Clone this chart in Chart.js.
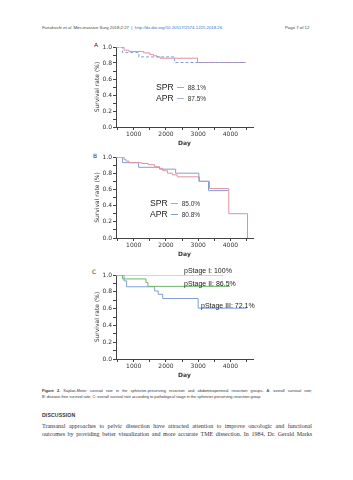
<!DOCTYPE html>
<html>
<head>
<meta charset="utf-8">
<script src="https://cdn.jsdelivr.net/npm/chart.js@4.4.1/dist/chart.umd.min.js"></script>
<style>
    html, body { margin: 0; padding: 0; background: #fff; }
    body { width: 353px; height: 480px; position: relative; overflow: hidden; font-family: "Liberation Sans", Arial, sans-serif; color: #222; }
    .abs { position: absolute; white-space: nowrap; }
    canvas { position: absolute; }
    .hdr { font-size: 4.3px; line-height: 6px; color: #444; }
    .panel { font-size: 6px; line-height: 8px; color: #333; font-family: "DejaVu Sans", sans-serif; }
    .lg { font-size: 8.6px; line-height: 10px; color: #222; }
    .lg .pct { font-size: 6.5px; color: #333; }
    .lg .ln { display: inline-block; width: 7px; height: 1px; vertical-align: middle; margin: 0 4px 0 3px; }
    .stage { font-size: 7px; line-height: 9px; color: #222; }
    .cap { font-size: 3.9px; line-height: 6.6px; color: #333; width: 270px; white-space: normal; }
    .cap.j { text-align: justify; text-align-last: justify; }
    .disc { font-size: 5.2px; font-weight: bold; color: #333; letter-spacing: 0.1px; line-height: 7px; }
    .para { font-family: "Liberation Serif", serif; font-size: 6px; line-height: 7.6px; color: #333; width: 270px; white-space: normal; text-align: justify; text-align-last: justify; }
</style>
</head>
<body>

<div class="abs hdr" style="left:42px;top:25px"><i>Funakoshi et al.</i> Mini-invasive Surg 2018;2:27 &nbsp;|&nbsp; <span style="color:#2f6fbf">http://dx.doi.org/10.20517/2574-1225.2018.26</span></div>
<div class="abs hdr" style="left:285px;top:25px">Page 7 of 12</div>

<div class="abs panel" style="left:94px;top:41px">A</div>
<div class="abs panel" style="left:93px;top:152px">B</div>
<div class="abs panel" style="left:92px;top:268px">C</div>

<canvas id="km-os" width="176" height="113" style="left:84px;top:38px"></canvas>
<canvas id="km-dfs" width="176" height="114" style="left:84px;top:148px"></canvas>
<canvas id="km-stage" width="176" height="117" style="left:84px;top:266px"></canvas>

<div id="lg-os" class="abs" style="left:156px;top:82px"></div>
<div id="lg-dfs" class="abs" style="left:150px;top:198px"></div>
<div id="lg-stage"></div>

<div class="abs cap j" style="left:42px;top:387.5px"><b>Figure 2.</b> Kaplan-Meier survival rate in the sphincter-preserving resection and abdominoperineal resection groups. A: overall survival rate;</div>
<div class="abs cap" style="left:42px;top:394px">B: disease-free survival rate; C: overall survival rate according to pathological stage in the sphincter-preserving resection group</div>

<div class="abs disc" style="left:42px;top:412px">DISCUSSION</div>
<div class="abs para" style="left:42px;top:423px">Transanal approaches to pelvic dissection have attracted attention to improve oncologic and functional</div>
<div class="abs para" style="left:42px;top:430.6px">outcomes by providing better visualization and more accurate TME dissection. In 1984, Dr. Gerald Marks</div>

<script>
// axes
const dayMin = 450;
const dayMax = 4700;
const xTickDays = [500, 1000, 1500, 2000, 2500, 3000, 3500, 4000, 4500];
const xTickLabels = ["", "1000", "", "2000", "", "3000", "", "4000", ""];
const yTickValues = [0, 0.1, 0.2, 0.3, 0.4, 0.5, 0.6, 0.7, 0.8, 0.9, 1.0];

// A: overall survival
const osGroups = ["SPR", "APR"];
const osRates = ["88.1%", "87.5%"];
const osSprDays = [450, 700, 850, 1310, 1500, 1620, 1720, 1820, 2980, 4480];
const osSprSurv = [1.0, 0.96, 0.945, 0.926, 0.905, 0.89, 0.876, 0.86, 0.806, 0.806];
const osAprDays = [450, 650, 1160, 2270, 4480];
const osAprSurv = [1.0, 0.93, 0.876, 0.806, 0.806];

// B: disease-free survival
const dfsGroups = ["SPR", "APR"];
const dfsRates = ["85.0%", "80.8%"];
const dfsSprDays = [450, 700, 760, 850, 1250, 1450, 1650, 1800, 1900, 2050, 2200, 2350, 3040, 3350, 3950, 4530];
const dfsSprSurv = [1.0, 0.97, 0.95, 0.93, 0.92, 0.905, 0.88, 0.86, 0.83, 0.80, 0.78, 0.755, 0.70, 0.61, 0.30, 0.0];
const dfsAprDays = [450, 650, 1150, 1800, 2300, 3020, 3320, 3930];
const dfsAprSurv = [1.0, 0.93, 0.873, 0.85, 0.80, 0.70, 0.585, 0.585];

// C: overall survival by pathological stage (SPR)
const stageNames = ["pStage I", "pStage II", "pStage III"];
const stageRates = ["100%", "86.5%", "72.1%"];
const stage1Days = [450, 3770];
const stage1Surv = [1.0, 1.0];
const stage2Days = [450, 650, 1380, 1440, 3990];
const stage2Surv = [1.0, 0.953, 0.91, 0.865, 0.865];
const stage3Days = [450, 700, 780, 1650, 1760, 1900, 3000, 4500];
const stage3Surv = [1.0, 0.93, 0.86, 0.81, 0.77, 0.72, 0.605, 0.605];

const PINK = "#e0909c";
const BLUE = "#7f9ed6";
const GREEN = "#6db56a";
const AXIS = "#444";

Chart.defaults.font.family = "'DejaVu Sans', sans-serif";
Chart.defaults.font.size = 6;
Chart.defaults.color = "#333";

const charts = [];

function toPoints(days, surv) {
    return days.map((d, i) => ({ x: d, y: surv[i] }));
}

function kmChart(canvasId, series) {
    const ctx = document.getElementById(canvasId);
    if (!ctx) return;

    const chart = new Chart(ctx, {
        type: "line",
        data: {
            datasets: series.map(s => ({
                data: toPoints(s.days, s.surv),
                borderColor: s.color,
                borderWidth: 1,
                borderDash: s.dash || [],
                pointRadius: 0,
                stepped: "before",
                fill: false,
                tension: 0,
            })),
        },
        options: {
            responsive: false,
            animation: false,
            events: [],
            layout: { padding: { top: 9, right: 7, left: 0, bottom: 0 } },
            plugins: { legend: { display: false }, tooltip: { enabled: false } },
            scales: {
                x: {
                    type: "linear",
                    min: dayMin,
                    max: dayMax,
                    afterBuildTicks: axis => { axis.ticks = xTickDays.map(v => ({ value: v })); },
                    afterFit: axis => { axis.height = 24; },
                    ticks: {
                        padding: 1,
                        maxRotation: 0,
                        autoSkip: false,
                        callback: (v, i) => xTickLabels[i],
                    },
                    grid: { drawOnChartArea: false, tickLength: 3, color: AXIS },
                    border: { color: AXIS, width: 1 },
                    title: { display: true, text: "Day", font: { weight: "bold", size: 6 }, padding: { top: 0, bottom: 4 } },
                },
                y: {
                    min: 0,
                    max: 1,
                    afterBuildTicks: axis => { axis.ticks = yTickValues.map(v => ({ value: v })); },
                    afterFit: axis => { axis.width = 32; },
                    ticks: {
                        padding: 1,
                        autoSkip: false,
                        callback: v => (Math.round(v * 10) % 2 === 0 ? v.toFixed(1) : ""),
                    },
                    grid: { drawOnChartArea: false, tickLength: 3, color: AXIS },
                    border: { color: AXIS, width: 1 },
                    title: { display: true, text: "Survival rate (%)", padding: { top: 10, bottom: 0 } },
                },
            },
        },
    });

    charts.push(chart);
}

function renderLegend(id, names, rates, colors, rowGap) {
    const box = document.getElementById(id);
    box.innerHTML = names.map((n, i) => `
        <div class="lg" style="position:absolute;left:0;top:${i * rowGap}px;white-space:nowrap">${n}<span class="ln" style="background:${colors[i]}"></span><span class="pct">${rates[i]}</span></div>
    `).join("");
}

function renderStageLabels(names, rates, spots) {
    const box = document.getElementById("lg-stage");
    box.innerHTML = names.map((n, i) => `
        <div class="abs stage" style="left:${spots[i][0]}px;top:${spots[i][1]}px">${n}: ${rates[i]}</div>
    `).join("");
}

kmChart("km-os", [
    { days: osAprDays, surv: osAprSurv, color: BLUE, dash: [3, 2] },
    { days: osSprDays, surv: osSprSurv, color: PINK },
]);
kmChart("km-dfs", [
    { days: dfsSprDays, surv: dfsSprSurv, color: PINK },
    { days: dfsAprDays, surv: dfsAprSurv, color: BLUE },
]);
kmChart("km-stage", [
    { days: stage1Days, surv: stage1Surv, color: PINK },
    { days: stage2Days, surv: stage2Surv, color: GREEN },
    { days: stage3Days, surv: stage3Surv, color: BLUE },
]);

renderLegend("lg-os", osGroups, osRates, [PINK, "#a9b6cc"], 10.5);
renderLegend("lg-dfs", dfsGroups, dfsRates, [PINK, BLUE], 11);
renderStageLabels(stageNames, stageRates, [[184, 265.5], [184, 279], [201, 300.5]]);
</script>
</body>
</html>
